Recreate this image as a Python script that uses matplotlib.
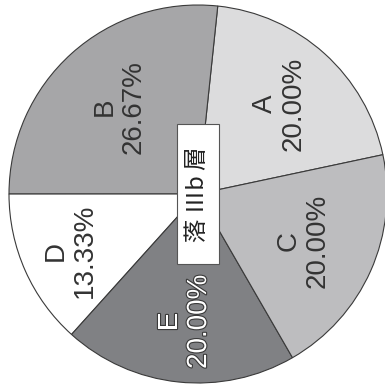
import numpy as np
import matplotlib
matplotlib.use("Agg")
import matplotlib.pyplot as plt
import matplotlib.patheffects as pe

# data (counter-clockwise from the A/C boundary)
labels   = ["A", "B", "D", "E", "C"]
percents = [20.00, 26.67, 13.33, 20.00, 20.00]
center_label = "落 Ⅲb 層"

# styles
colors   = ["#dcdcdd", "#a6a6a8", "#ffffff", "#808184", "#bdbdbf"]
label_r  = [0.645, 0.62, 0.74, 0.68, 0.606]
text_col = ["#333333", "#333333", "#333333", "#ffffff", "#333333"]

fig = plt.figure(figsize=(3.85, 3.90), dpi=100)
ax = fig.add_axes([9 / 385, (390 - 194 - 189) / 390, 378 / 385, 378 / 390])

wedges, _ = ax.pie(percents, colors=colors, startangle=12, counterclock=True, radius=1,
                   wedgeprops=dict(edgecolor="#3a3a3a", linewidth=0.8))
ax.set_xlim(-1, 1)
ax.set_ylim(-1, 1)
ax.set_aspect("equal")
ax.axis("off")

for w, lab, pct, r, tc in zip(wedges, labels, percents, label_r, text_col):
    mid = np.deg2rad((w.theta1 + w.theta2) / 2)
    t = ax.text(r * np.cos(mid), r * np.sin(mid), "%s\n%.2f%%" % (lab, pct),
                rotation=90, ha="center", va="center", fontsize=20,
                family="Liberation Sans", color=tc, linespacing=1.15)
    if tc == "#ffffff":
        t.set_path_effects([pe.withStroke(linewidth=1.6, foreground="#3a3a3a")])

# en spaces at both ends give the box its longer padding
ax.text(0, 0, "\u2002" + center_label + "\u2002", rotation=90, ha="center", va="center",
        fontsize=17, family=["Noto Sans CJK JP", "DejaVu Sans"], color="#222222",
        bbox=dict(boxstyle="square,pad=0.42", fc="white", ec="#555555", lw=0.8))

fig.savefig("out.png", dpi=100)
